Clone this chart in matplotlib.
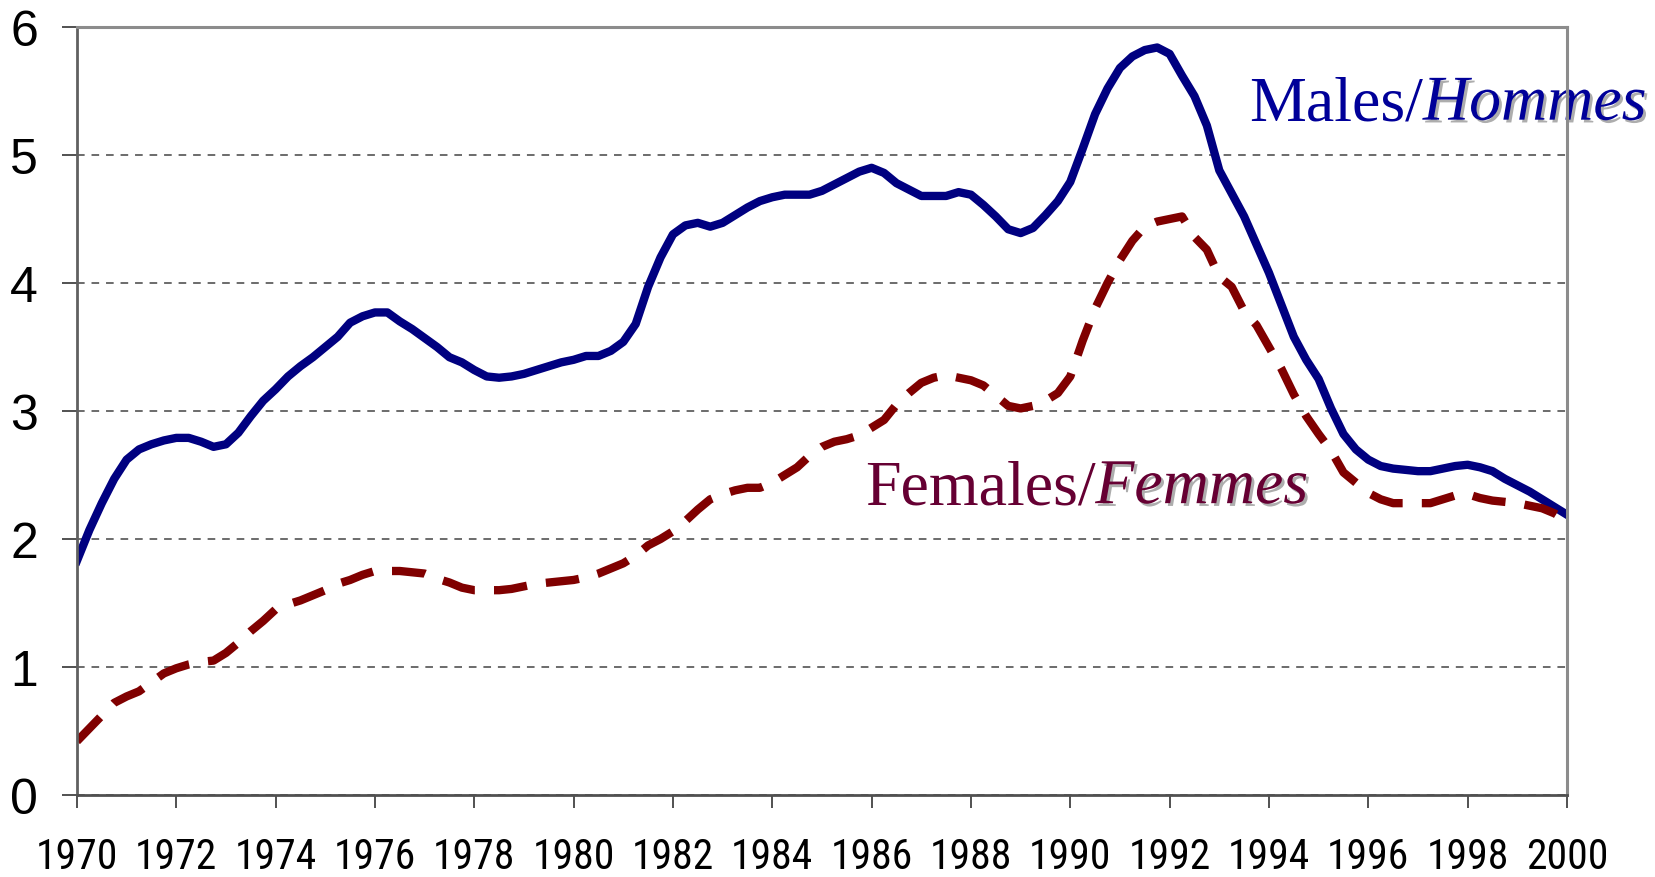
import numpy as np
import matplotlib
matplotlib.use("Agg")
import matplotlib.pyplot as plt
import matplotlib.patheffects as pe

# quarterly values, 1970.00 .. 2000.00
years = np.arange(1970, 2000.01, 0.25)

males = [
    1.83, 2.07, 2.28, 2.47, 2.62, 2.70, 2.74, 2.77,   # 1970-71
    2.79, 2.79, 2.76, 2.72, 2.74, 2.83, 2.96, 3.08,   # 1972-73
    3.17, 3.27, 3.35, 3.42, 3.50, 3.58, 3.69, 3.74,   # 1974-75
    3.77, 3.77, 3.70, 3.64, 3.57, 3.50, 3.42, 3.38,   # 1976-77
    3.32, 3.27, 3.26, 3.27, 3.29, 3.32, 3.35, 3.38,   # 1978-79
    3.40, 3.43, 3.43, 3.47, 3.54, 3.68, 3.97, 4.20,   # 1980-81
    4.38, 4.45, 4.47, 4.44, 4.47, 4.53, 4.59, 4.64,   # 1982-83
    4.67, 4.69, 4.69, 4.69, 4.72, 4.77, 4.82, 4.87,   # 1984-85
    4.90, 4.86, 4.78, 4.73, 4.68, 4.68, 4.68, 4.71,   # 1986-87
    4.69, 4.61, 4.52, 4.42, 4.39, 4.43, 4.53, 4.64,   # 1988-89
    4.79, 5.05, 5.32, 5.52, 5.68, 5.77, 5.82, 5.84,   # 1990-91
    5.79, 5.62, 5.46, 5.23, 4.88, 4.70, 4.52, 4.30,   # 1992-93
    4.08, 3.83, 3.58, 3.40, 3.25, 3.02, 2.82, 2.70,   # 1994-95
    2.62, 2.57, 2.55, 2.54, 2.53, 2.53, 2.55, 2.57,   # 1996-97
    2.58, 2.56, 2.53, 2.47, 2.42, 2.37, 2.31, 2.25,   # 1998-99
    2.19,                                             # 2000
]

females = [
    0.42, 0.52, 0.62, 0.72, 0.77, 0.81, 0.88, 0.95,
    0.99, 1.02, 1.04, 1.05, 1.11, 1.19, 1.28, 1.36,
    1.45, 1.49, 1.52, 1.56, 1.60, 1.65, 1.68, 1.72,
    1.75, 1.75, 1.75, 1.74, 1.73, 1.69, 1.66, 1.62,
    1.60, 1.60, 1.60, 1.61, 1.63, 1.65, 1.66, 1.67,
    1.68, 1.70, 1.73, 1.77, 1.81, 1.87, 1.95, 2.00,
    2.06, 2.14, 2.23, 2.31, 2.35, 2.38, 2.40, 2.40,
    2.44, 2.50, 2.56, 2.65, 2.72, 2.76, 2.78, 2.81,
    2.87, 2.93, 3.05, 3.14, 3.22, 3.26, 3.28, 3.26,
    3.24, 3.20, 3.12, 3.04, 3.02, 3.04, 3.08, 3.14,
    3.27, 3.55, 3.80, 4.00, 4.18, 4.33, 4.44, 4.48,
    4.50, 4.52, 4.36, 4.26, 4.05, 3.97, 3.78, 3.67,
    3.50, 3.33, 3.13, 2.96, 2.82, 2.69, 2.52, 2.44,
    2.36, 2.31, 2.28, 2.28, 2.28, 2.28, 2.31, 2.34,
    2.35, 2.32, 2.30, 2.29, 2.28, 2.26, 2.24, 2.20,
    2.14,
]

xticks = list(range(1970, 2001, 2))
yticks = [0, 1, 2, 3, 4, 5, 6]

fig = plt.figure(figsize=(16.55, 8.78), dpi=100)
ax = fig.add_axes([0.0465, 0.0934, 0.9003, 0.8747])

ax.plot(years, males, color='#000080', lw=6, solid_joinstyle='round', zorder=3)
ax.plot(years, females, color='#800000', lw=6, linestyle=(0, (4, 2.3)),
        dash_capstyle='butt', zorder=3)

ax.set_xlim(1970, 2000)
ax.set_ylim(0, 6)
ax.set_xticks(xticks)
ax.set_yticks(yticks)
ax.set_xticklabels([str(t) for t in xticks], family=['Roboto Condensed', 'Liberation Sans'], fontsize=30)
ax.set_yticklabels([str(t) for t in yticks], family=['Liberation Sans'], fontsize=36)
ax.tick_params(axis='x', direction='out', length=9.5, width=1.2, color='#333333', pad=20)
ax.tick_params(axis='y', direction='out', length=11, width=1.2, color='#333333', pad=17)

ax.yaxis.grid(True, linestyle=(0, (5, 4.5)), color='#444444', lw=1.1)
ax.set_axisbelow(True)

ax.spines['left'].set_color('#606060')
ax.spines['left'].set_linewidth(2)
ax.spines['bottom'].set_color('#505050')
ax.spines['bottom'].set_linewidth(2)
ax.spines['top'].set_color('#8c8c8c')
ax.spines['top'].set_linewidth(2.2)
ax.spines['right'].set_color('#8c8c8c')
ax.spines['right'].set_linewidth(2.2)
for s in ax.spines.values():
    s.set_zorder(5)

shadow = [pe.SimplePatchShadow(offset=(2, -2), shadow_rgbFace='#999999', alpha=0.8), pe.Normal()]

# labels
t1 = ax.text(1993.6, 5.276, 'Males/', color='#000099', fontsize=46,
             family='Liberation Serif', va='baseline', ha='left', zorder=2)
ax.annotate('Hommes', xy=(1, 0), xycoords=t1, va='bottom', ha='left',
            color='#000099', fontsize=46, family='Liberation Serif',
            fontstyle='italic', path_effects=shadow, zorder=2)

t2 = ax.text(1985.86, 2.28, 'Females/', color='#660033', fontsize=46,
             family='Liberation Serif', va='baseline', ha='left', zorder=2)
ax.annotate('Femmes', xy=(1, 0), xycoords=t2, va='bottom', ha='left',
            color='#660033', fontsize=46, family='Liberation Serif',
            fontstyle='italic', path_effects=shadow, zorder=2)

fig.savefig('out.png', dpi=100)
